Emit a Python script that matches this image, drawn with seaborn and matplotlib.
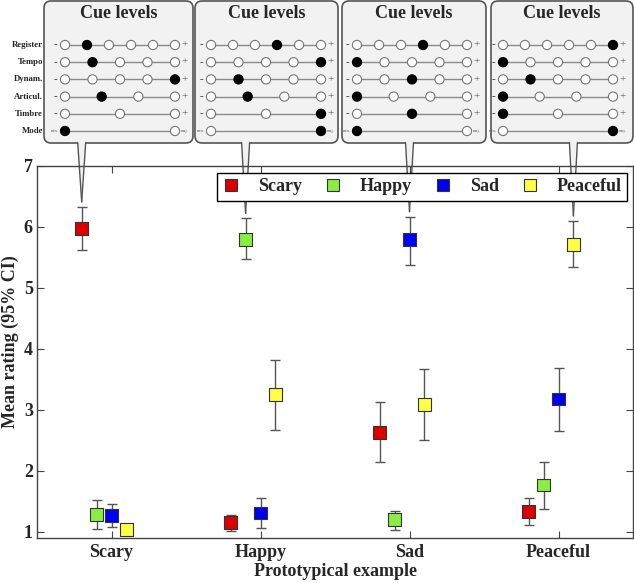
import numpy as np
import pandas as pd
import matplotlib
matplotlib.use("Agg")
import matplotlib.pyplot as plt
import seaborn as sns
from matplotlib.patches import FancyBboxPatch, Circle, Polygon

# --- Data ---
examples = ["Scary", "Happy", "Sad", "Peaceful"]
rated = ["Scary", "Happy", "Sad", "Peaceful"]
colors = ["#dd0000", "#88ee44", "#0000ee", "#ffff44"]

scary_mean = [5.98, 1.16, 2.63, 1.33]
scary_lo = [5.62, 1.02, 2.15, 1.11]
scary_hi = [6.33, 1.28, 3.13, 1.55]

happy_mean = [1.29, 5.80, 1.20, 1.77]
happy_lo = [1.04, 5.47, 1.03, 1.38]
happy_hi = [1.52, 6.14, 1.35, 2.15]

sad_mean = [1.27, 1.31, 5.79, 3.18]
sad_lo = [1.08, 1.07, 5.38, 2.66]
sad_hi = [1.46, 1.55, 6.17, 3.69]

peaceful_mean = [1.04, 3.25, 3.09, 5.71]
peaceful_lo = [0.98, 2.67, 2.51, 5.34]
peaceful_hi = [1.10, 3.82, 3.67, 6.10]

# cue settings of each prototype (index of the filled level, None = none filled)
cue_names = ["Register", "Tempo", "Dynam.", "Articul.", "Timbre", "Mode"]
cue_levels = [6, 5, 5, 4, 3, 2]
scary_cues = [1, 1, 4, 1, None, 0]
happy_cues = [3, 4, 1, 1, 2, 1]
sad_cues = [3, 0, 2, 0, 1, 0]
peaceful_cues = [5, 0, 1, 0, 0, 1]

# --- Build table ---
means = [scary_mean, happy_mean, sad_mean, peaceful_mean]
los = [scary_lo, happy_lo, sad_lo, peaceful_lo]
his = [scary_hi, happy_hi, sad_hi, peaceful_hi]
cues = [scary_cues, happy_cues, sad_cues, peaceful_cues]
dodge = [-0.2, -0.1, 0.0, 0.1]

rows = []
for j, emo in enumerate(rated):
    for i, ex in enumerate(examples):
        rows.append({"rating": emo, "example": ex, "xpos": i + dodge[j],
                     "mean": means[j][i], "lo": los[j][i], "hi": his[j][i]})
df = pd.DataFrame(rows)

# --- Style ---
sns.set_style("ticks")
plt.rcParams["font.family"] = ["Liberation Serif", "DejaVu Serif"]
plt.rcParams["font.weight"] = "bold"

W, H = 634, 583
fig = plt.figure(figsize=(W / 100, H / 100), dpi=100)
ax = fig.add_axes([37 / W, 1 - 538 / H, 596 / W, 372 / H])
ax.set_zorder(2)
ax.patch.set_visible(False)

ax.errorbar(df["xpos"], df["mean"], yerr=[df["mean"] - df["lo"], df["hi"] - df["mean"]],
            fmt="none", ecolor="#555555", elinewidth=1, capsize=3.5, capthick=1, zorder=2)
sns.scatterplot(data=df, x="xpos", y="mean", hue="rating", hue_order=rated,
                palette=colors, marker="s", s=85, edgecolor="#333333", linewidth=0.8,
                ax=ax, zorder=3)

ax.set_xlim(-0.5, 3.5)
ax.set_ylim(0.9, 7.0)
ax.set_xticks(range(len(examples)))
ax.set_xticklabels(examples)
ax.set_yticks(range(1, 8))
ax.tick_params(direction="in", length=5, width=0.8, color="#444444", top=True, right=True,
               labelsize=13, pad=4.5)
ax.tick_params(axis="y", pad=3)
for lab in ax.get_xticklabels() + ax.get_yticklabels():
    lab.set_fontweight("bold")
for sp in ax.spines.values():
    sp.set_color("#444444")
    sp.set_linewidth(1)

ax.set_xlabel("Prototypical example", fontsize=13, fontweight="bold", va="center")
ax.xaxis.set_label_coords(0.5, -34 / 372)
ax.set_ylabel("Mean rating (95% CI)", fontsize=13, fontweight="bold", va="center")
ax.yaxis.set_label_coords(-27 / 596, 0.527)

handles, labels = ax.get_legend_handles_labels()
leg = ax.legend(handles, labels, ncol=4, loc="upper right", bbox_to_anchor=(0.99, 0.981),
                borderaxespad=0, frameon=True, fancybox=False, framealpha=1,
                edgecolor="black", prop={"size": 13, "weight": "bold"},
                handlelength=1.0, handletextpad=1.0, columnspacing=1.2, borderpad=0.3)
leg.get_frame().set_linewidth(1)

# --- Cue level panels (pixel coordinates) ---
ov = fig.add_axes([0, 0, 1, 1])
ov.set_zorder(1)
ov.set_xlim(0, W)
ov.set_ylim(H, 0)
ov.axis("off")

panel_left = [44, 195, 342, 491]
panel_right = [193, 338, 486, 633]
circ_start = [65, 211, 357, 503]
span = 110
top, bottom = 1, 143
row_y = [45 + 17.2 * k for k in range(len(cue_names))]
face = "#f2f2f2"
edge = "#555555"

fig.canvas.draw()
for p in range(len(examples)):
    l, r = panel_left[p], panel_right[p]
    ov.add_patch(FancyBboxPatch((l, top), r - l, bottom - top,
                                boxstyle="round,pad=0,rounding_size=7",
                                fc=face, ec=edge, lw=1.2, zorder=1))
    ov.text((l + r) / 2, 14, "Cue levels", ha="center", va="center",
            fontsize=13, fontweight="bold", zorder=3)

    # callout towards the matching point
    x = p + dodge[p]
    px, py = ax.transData.transform((x, his[p][p]))
    tip_x, tip_y = px, H - py - 5
    ov.add_patch(Polygon([(tip_x - 4, bottom - 2), (tip_x + 4, bottom - 2), (tip_x, tip_y)],
                         closed=True, fc=face, ec="none", zorder=2))
    ov.plot([tip_x - 4, tip_x], [bottom - 0.5, tip_y], color=edge, lw=1, zorder=2)
    ov.plot([tip_x + 4, tip_x], [bottom - 0.5, tip_y], color=edge, lw=1, zorder=2)

    x0 = circ_start[p]
    for k, n in enumerate(cue_levels):
        y = row_y[k]
        xs = np.linspace(x0, x0 + span, n)
        ov.plot([xs[0], xs[-1]], [y, y], color="#8a8a8a", lw=1, zorder=3)
        for m, cx in enumerate(xs):
            filled = cues[p][k] == m
            ov.add_patch(Circle((cx, y), 4.6, fc="black" if filled else "white",
                                ec="black" if filled else "#777777", lw=0.8, zorder=4))
        if cue_names[k] == "Mode":
            ov.text(x0 - 6, y, "min.", ha="right", va="center", fontsize=3.2,
                    fontweight="normal", color="#555555", zorder=4)
            ov.text(x0 + span + 6, y, "maj.", ha="left", va="center", fontsize=3.2,
                    fontweight="normal", color="#555555", zorder=4)
        else:
            ov.text(x0 - 8, y, "-", ha="right", va="center", fontsize=8,
                    fontweight="normal", color="#333333", zorder=4)
            ov.text(x0 + span + 6, y, "+", ha="left", va="center", fontsize=8,
                    fontweight="normal", color="#555555", zorder=4)

for k, name in enumerate(cue_names):
    ov.text(43, row_y[k], name, ha="right", va="center", fontsize=6.3,
            fontweight="bold", zorder=4)

fig.savefig("out.png", dpi=100)
